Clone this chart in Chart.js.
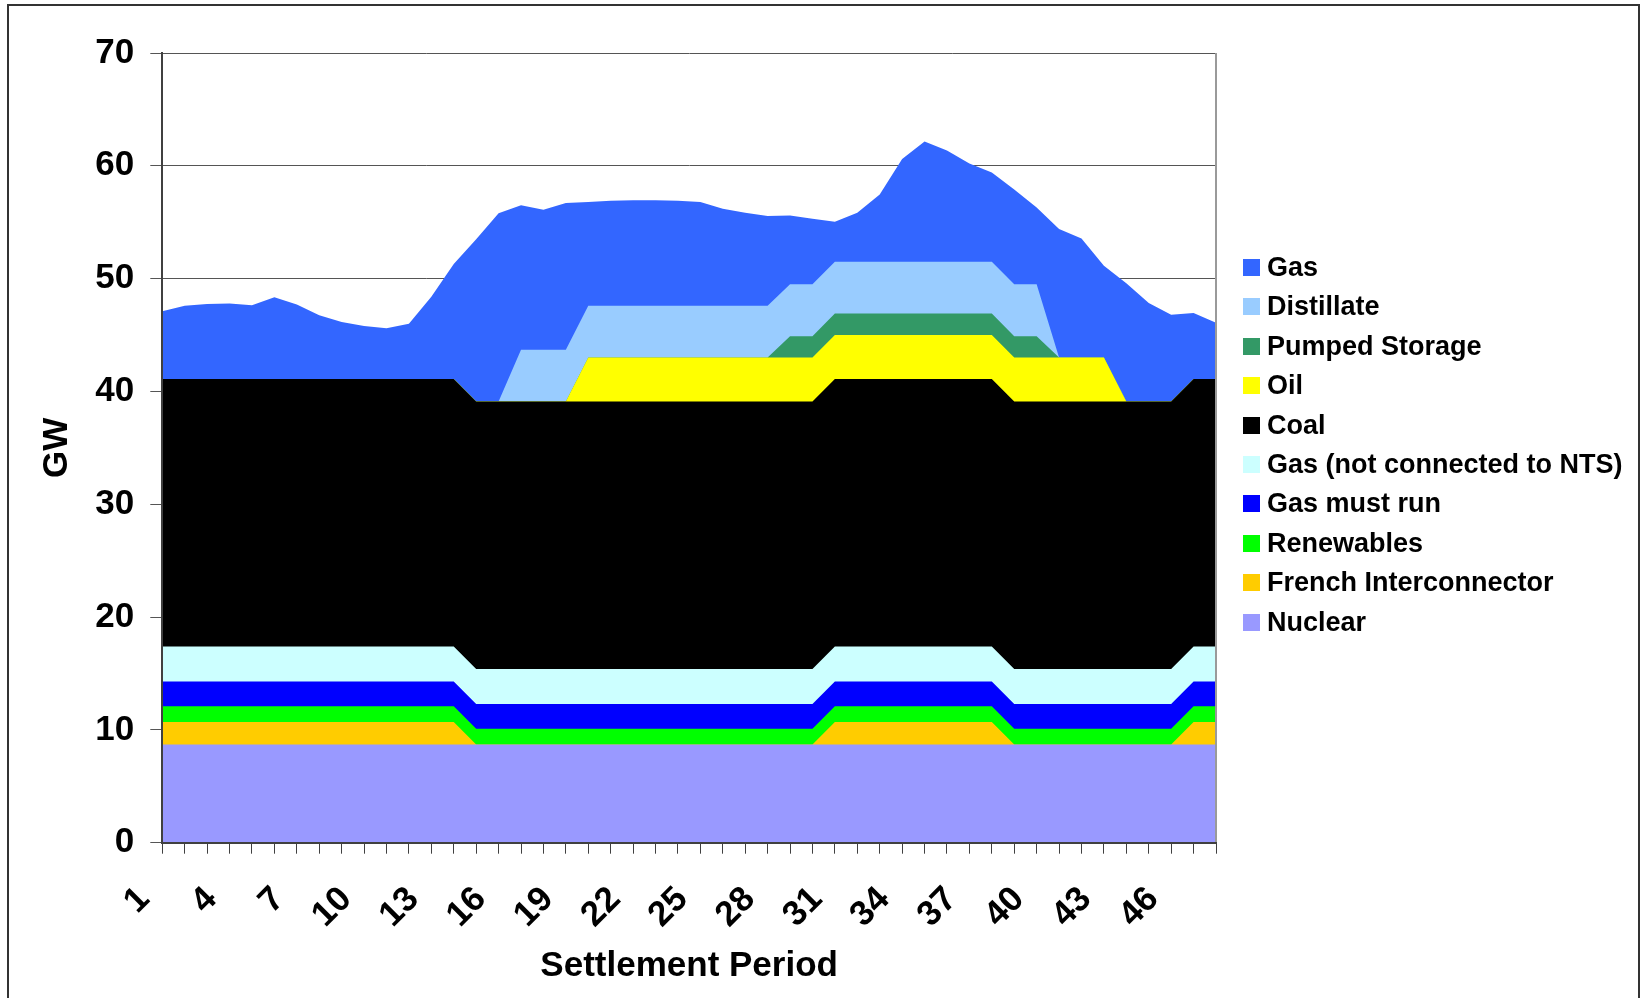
<!DOCTYPE html>
<html>
<head>
<meta charset="utf-8">
<title>Generation by fuel type</title>
<script src="https://cdn.jsdelivr.net/npm/chart.js@4/dist/chart.umd.min.js"></script>
<style>
  html, body { margin: 0; padding: 0; background: #fff; overflow: hidden; }
  #wrap { position: relative; width: 1645px; height: 998px; }
  #frame {
    position: absolute; left: 7px; top: 4px; width: 1633px; height: 1010px;
    border: 2px solid #333; box-sizing: border-box; pointer-events: none;
  }
  .lg-item {
    position: absolute; left: 1243px; height: 30px;
    display: flex; align-items: center; white-space: nowrap;
    font: bold 27px 'Liberation Sans', Arial, sans-serif; color: #000;
  }
  .lg-box { width: 17px; height: 17px; margin-right: 7px; flex: none; }
</style>
</head>
<body>
<div id="wrap">
  <canvas id="genChart" width="1645" height="998"></canvas>
  <div id="legend"></div>
  <div id="frame"></div>
</div>
<script>
// ── Data (GW per settlement period) ───────────────────────────────
const periods = ['1','2','3','4','5','6','7','8','9','10','11','12','13','14','15','16',
  '17','18','19','20','21','22','23','24','25','26','27','28','29','30','31','32',
  '33','34','35','36','37','38','39','40','41','42','43','44','45','46','47','48'];

const nuclear = [8.7,8.7,8.7,8.7,8.7,8.7,8.7,8.7,8.7,8.7,8.7,8.7,8.7,8.7,8.7,8.7,
  8.7,8.7,8.7,8.7,8.7,8.7,8.7,8.7,8.7,8.7,8.7,8.7,8.7,8.7,8.7,8.7,
  8.7,8.7,8.7,8.7,8.7,8.7,8.7,8.7,8.7,8.7,8.7,8.7,8.7,8.7,8.7,8.7];
const french = [2,2,2,2,2,2,2,2,2,2,2,2,2,2,0,0,
  0,0,0,0,0,0,0,0,0,0,0,0,0,0,2,2,
  2,2,2,2,2,2,0,0,0,0,0,0,0,0,2,2];
const renewables = [1.4,1.4,1.4,1.4,1.4,1.4,1.4,1.4,1.4,1.4,1.4,1.4,1.4,1.4,1.4,1.4,
  1.4,1.4,1.4,1.4,1.4,1.4,1.4,1.4,1.4,1.4,1.4,1.4,1.4,1.4,1.4,1.4,
  1.4,1.4,1.4,1.4,1.4,1.4,1.4,1.4,1.4,1.4,1.4,1.4,1.4,1.4,1.4,1.4];
const gasMustRun = [2.2,2.2,2.2,2.2,2.2,2.2,2.2,2.2,2.2,2.2,2.2,2.2,2.2,2.2,2.2,2.2,
  2.2,2.2,2.2,2.2,2.2,2.2,2.2,2.2,2.2,2.2,2.2,2.2,2.2,2.2,2.2,2.2,
  2.2,2.2,2.2,2.2,2.2,2.2,2.2,2.2,2.2,2.2,2.2,2.2,2.2,2.2,2.2,2.2];
const gasNotNTS = [3.1,3.1,3.1,3.1,3.1,3.1,3.1,3.1,3.1,3.1,3.1,3.1,3.1,3.1,3.1,3.1,
  3.1,3.1,3.1,3.1,3.1,3.1,3.1,3.1,3.1,3.1,3.1,3.1,3.1,3.1,3.1,3.1,
  3.1,3.1,3.1,3.1,3.1,3.1,3.1,3.1,3.1,3.1,3.1,3.1,3.1,3.1,3.1,3.1];
const coal = [23.7,23.7,23.7,23.7,23.7,23.7,23.7,23.7,23.7,23.7,23.7,23.7,23.7,23.7,23.7,23.7,
  23.7,23.7,23.7,23.7,23.7,23.7,23.7,23.7,23.7,23.7,23.7,23.7,23.7,23.7,23.7,23.7,
  23.7,23.7,23.7,23.7,23.7,23.7,23.7,23.7,23.7,23.7,23.7,23.7,23.7,23.7,23.7,23.7];
const oil = [0,0,0,0,0,0,0,0,0,0,0,0,0,0,0,0,
  0,0,0,3.9,3.9,3.9,3.9,3.9,3.9,3.9,3.9,3.9,3.9,3.9,3.9,3.9,
  3.9,3.9,3.9,3.9,3.9,3.9,3.9,3.9,3.9,3.9,3.9,0,0,0,0,0];
const pumped = [0,0,0,0,0,0,0,0,0,0,0,0,0,0,0,0,
  0,0,0,0,0,0,0,0,0,0,0,0,1.9,1.9,1.9,1.9,
  1.9,1.9,1.9,1.9,1.9,1.9,1.9,1.9,0,0,0,0,0,0,0,0];
const distillate = [0,0,0,0,0,0,0,0,0,0,0,0,0,0,0,0,
  4.6,4.6,4.6,4.6,4.6,4.6,4.6,4.6,4.6,4.6,4.6,4.6,4.6,4.6,4.6,4.6,
  4.6,4.6,4.6,4.6,4.6,4.6,4.6,4.6,0,0,0,0,0,0,0,0];
const gas = [6.0,6.5,6.65,6.7,6.55,7.25,6.6,5.65,5.05,4.7,4.5,4.9,7.3,10.2,14.4,16.7,
  12.8,12.4,13.0,9.2,9.3,9.35,9.35,9.3,9.2,8.6,8.25,7.95,6.1,5.8,3.55,4.35,
  5.95,9.1,10.65,9.85,8.7,7.9,8.4,6.8,11.4,10.55,8.15,10.5,8.75,7.7,5.85,5.0];

const yTicks = [0, 10, 20, 30, 40, 50, 60, 70];

// stack order, bottom to top
const seriesNames = ['Nuclear', 'French Interconnector', 'Renewables', 'Gas must run',
  'Gas (not connected to NTS)', 'Coal', 'Oil', 'Pumped Storage', 'Distillate', 'Gas'];
const seriesData = [nuclear, french, renewables, gasMustRun, gasNotNTS, coal, oil, pumped, distillate, gas];
const seriesColors = ['#9999FF', '#FFCC00', '#00FF00', '#0000FF', '#CCFFFF',
  '#000000', '#FFFF00', '#339966', '#99CCFF', '#3366FF'];

// ── Chart setup ───────────────────────────────────────────────────
const FONT = "'Liberation Sans', Arial, sans-serif";
Chart.defaults.font.family = FONT;
Chart.defaults.color = '#000';

// thin grey frame on the right side of the plot area
const plotFrame = {
  id: 'plotFrame',
  afterDatasetsDraw(chart) {
    const { ctx, chartArea: a } = chart;
    ctx.save();
    ctx.strokeStyle = '#9a9a9a';
    ctx.lineWidth = 2;
    ctx.beginPath();
    ctx.moveTo(a.right, a.top);
    ctx.lineTo(a.right, a.bottom);
    ctx.stroke();
    ctx.restore();
  }
};

const datasets = seriesNames.map((name, i) => ({
  label: name,
  data: seriesData[i],
  backgroundColor: seriesColors[i],
  borderColor: seriesColors[i],
  borderWidth: 0,
  pointRadius: 0,
  tension: 0,
  fill: 'origin'
}));

new Chart(document.getElementById('genChart').getContext('2d'), {
  type: 'line',
  data: { labels: periods, datasets },
  plugins: [plotFrame],
  options: {
    responsive: false,
    animation: false,
    layout: { padding: { left: 32.5, right: 429, top: 53, bottom: 7 } },
    plugins: { legend: { display: false }, tooltip: { enabled: false } },
    scales: {
      x: {
        offset: false,
        grid: { drawOnChartArea: false, drawTicks: true, tickLength: 11, color: '#404040', lineWidth: 1 },
        border: { color: '#404040', width: 2, z: 1 },
        ticks: {
          autoSkip: false, minRotation: 45, maxRotation: 45,
          padding: 25, labelOffset: -18,
          font: { size: 35, weight: 'bold' },
          callback: (v, i) => (i % 3 === 0 ? periods[i] : '')
        },
        title: { display: true, text: 'Settlement Period', font: { size: 35, weight: 'bold' }, padding: { top: 4, bottom: 4 } },
        afterFit: s => { s.height = 148.3; }
      },
      y: {
        stacked: true,
        min: yTicks[0],
        max: yTicks[yTicks.length - 1],
        grid: { color: '#555', lineWidth: 1, tickLength: 12 },
        border: { color: '#404040', width: 2, z: 1 },
        afterBuildTicks: s => { s.ticks = yTicks.map(v => ({ value: v })); },
        ticks: { padding: 16, font: { size: 35, weight: 'bold' } },
        title: { display: true, text: 'GW', font: { size: 35, weight: 'bold' }, padding: { top: 4, bottom: 4 } },
        afterFit: s => { s.width = 129.8; }
      }
    }
  }
});

// ── Legend (top of stack first) ──────────────────────────────────
const legendEl = document.getElementById('legend');
seriesNames.slice().reverse().forEach((name, i) => {
  const item = document.createElement('div');
  item.className = 'lg-item';
  item.style.top = (267.5 - 15 + i * 39.4) + 'px';
  const box = document.createElement('span');
  box.className = 'lg-box';
  box.style.background = seriesColors[seriesNames.length - 1 - i];
  item.appendChild(box);
  item.appendChild(document.createTextNode(name));
  legendEl.appendChild(item);
});
</script>
</body>
</html>
